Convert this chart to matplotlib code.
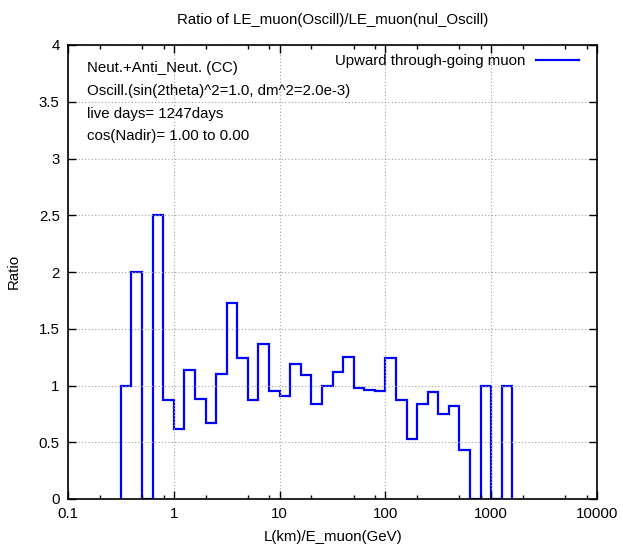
import matplotlib

matplotlib.use("Agg")
import matplotlib.pyplot as plt
import numpy as np
from matplotlib.ticker import FixedLocator, NullFormatter

plt.rcParams["font.family"] = ["Liberation Sans", "DejaVu Sans"]
plt.rcParams["font.size"] = 10.8

# log10 of the bin edges: 10 bins per decade, from 10^-0.5 to 10^3.2
log_edges = np.round(np.arange(-0.5, 3.25, 0.1), 1)
ratio = [
    1.00, 2.00, 0.00, 2.50, 0.87, 0.62, 1.14, 0.88, 0.67, 1.10,
    1.73, 1.24, 0.87, 1.37, 0.95, 0.91, 1.19, 1.09, 0.84, 1.00,
    1.12, 1.25, 0.98, 0.96, 0.95, 1.24, 0.87, 0.53, 0.84, 0.94,
    0.75, 0.82, 0.43, 0.00, 1.00, 0.00, 1.00,
]

info_lines = [
    "Neut.+Anti_Neut. (CC)",
    "Oscill.(sin(2theta)^2=1.0, dm^2=2.0e-3)",
    "live days= 1247days",
    "cos(Nadir)= 1.00 to 0.00",
]
x_ticks = [0.1, 1, 10, 100, 1000, 10000]
x_tick_labels = ["0.1", "1", "10", "100", "1000", "10000"]
y_ticks = [0, 0.5, 1, 1.5, 2, 2.5, 3, 3.5, 4]
y_tick_labels = ["0", "0.5", "1", "1.5", "2", "2.5", "3", "3.5", "4"]

W, H = 623, 545
fig = plt.figure(figsize=(W / 100, H / 100), dpi=100)
left, right, top, bottom = 68, 597, 45, 499
ax = fig.add_axes([left / W, 1 - bottom / H, (right - left) / W, (bottom - top) / H])

edges = 10.0 ** log_edges
ax.stairs(ratio, edges, baseline=0, fill=False, color="#0000ff", linewidth=1.6,
          label="Upward through-going muon")

ax.set_xscale("log")
ax.set_xlim(0.1, 10000)
ax.set_ylim(0, 4)

ax.xaxis.set_major_locator(FixedLocator(x_ticks))
ax.set_xticklabels(x_tick_labels)
minor = [m * 10.0 ** d for d in range(-1, 4) for m in (2, 5, 8)]
ax.xaxis.set_minor_locator(FixedLocator(minor))
ax.xaxis.set_minor_formatter(NullFormatter())
ax.set_yticks(y_ticks)
ax.set_yticklabels(y_tick_labels)

ax.tick_params(which="both", direction="in", top=True, right=True, color="black")
ax.tick_params(which="major", length=6, width=1, pad=6)
ax.tick_params(which="minor", length=3, width=1)
ax.tick_params(axis="y", which="minor", left=False, right=False)

ax.grid(True, which="major", linestyle=(0, (1, 2)), color="#a0a0a0", linewidth=0.8)
for s in ax.spines.values():
    s.set_linewidth(1.2)

for i, line in enumerate(info_lines):
    ax.text((87 - left) / (right - left), (bottom - 68 - i * 22.8) / (bottom - top), line,
            transform=ax.transAxes, ha="left", va="center")

ax.legend(loc="center right", bbox_to_anchor=((579 - left) / (right - left), (bottom - 61) / (bottom - top)),
          frameon=False, markerfirst=False, handlelength=2.9, handletextpad=0.7,
          borderpad=0, borderaxespad=0)

fig.text(333 / W, 1 - 20 / H, "Ratio of LE_muon(Oscill)/LE_muon(nul_Oscill)", ha="center", va="center")
fig.text(333 / W, 1 - 537 / H, "L(km)/E_muon(GeV)", ha="center", va="center")
fig.text(14 / W, 1 - 271 / H, "Ratio", ha="center", va="center", rotation=90)

fig.savefig("out.png", dpi=100)
